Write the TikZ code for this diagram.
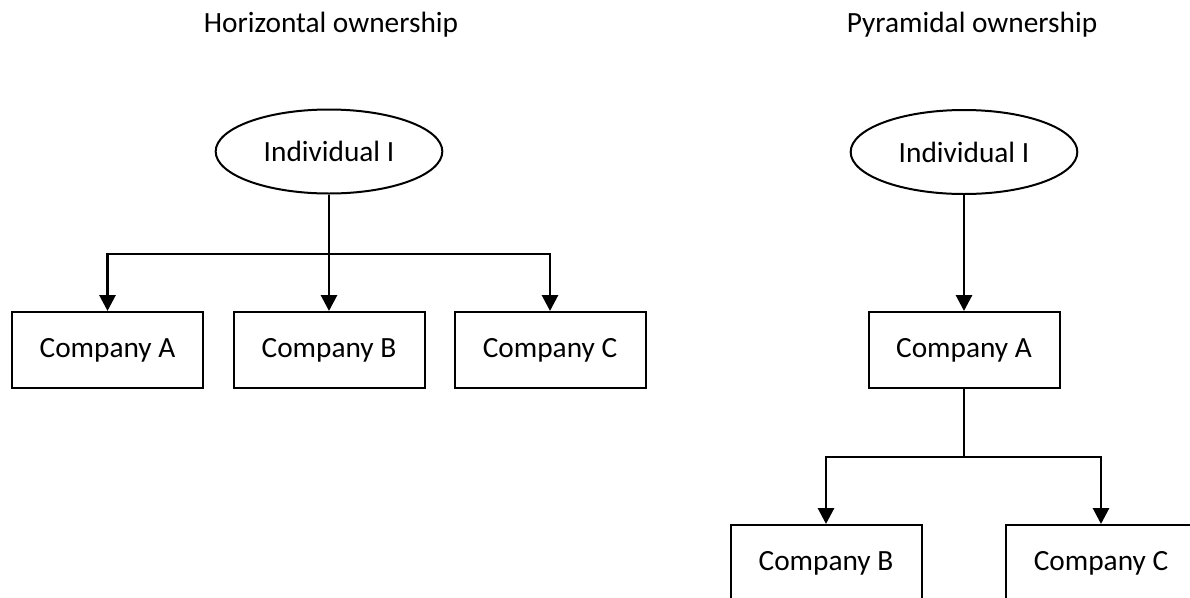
\documentclass[tikz,border=0pt]{standalone}
\usepackage{fontspec}
\setmainfont{Carlito}
\usetikzlibrary{shapes.geometric,arrows.meta}
\begin{document}
\begin{tikzpicture}[x=0.75pt,y=-0.75pt,
  every node/.style={font=\fontsize{22}{26}\selectfont},
  title/.style={inner sep=0pt},
  owner/.style={draw,ellipse,line width=1.5pt,inner sep=0pt,minimum width=170pt,minimum height=63pt},
  company/.style={draw,rectangle,line width=1.5pt,inner sep=0pt,minimum width=143.25pt,minimum height=57pt},
  link/.style={line width=2.2pt},
  arr/.style={link,-{Triangle[width=12pt,length=12pt]}}]
\clip (0,0) rectangle (1190,597);
\useasboundingbox (0,0) rectangle (1190,597);
% Horizontal ownership
\node[title] (t1) at (331,25) {Horizontal ownership};
\node[owner] (I1) at (329,151.5) {Individual I};
\node[company] (A1) at (107.5,350) {Company A};
\node[company] (B1) at (329,350) {Company B};
\node[company] (C1) at (550,350) {Company C};
\coordinate (j1) at (329,254);
\draw[arr] (I1.south) -- (B1.north);
\draw[arr] (j1) -| (A1.north);
\draw[arr] (j1) -| (C1.north);
% Pyramidal ownership
\node[title] (t2) at (972,25) {Pyramidal ownership};
\node[owner] (I2) at (964,152) {Individual I};
\node[company] (PA) at (964,350) {Company A};
\node[company] (PB) at (826,563) {Company B};
\node[company] (PC) at (1101,563) {Company C};
\coordinate (j2) at (964,457);
\draw[arr] (I2.south) -- (PA.north);
\draw[link] (PA.south) -- (j2);
\draw[arr] (j2) -| (PB.north);
\draw[arr] (j2) -| (PC.north);
\end{tikzpicture}
\end{document}
